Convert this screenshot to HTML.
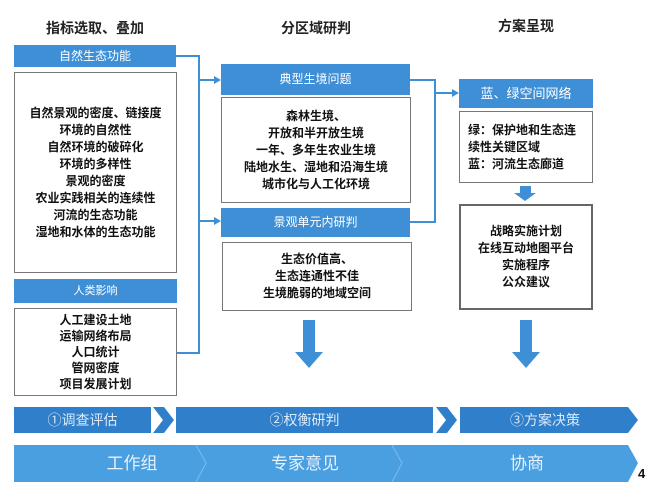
<!DOCTYPE html>
<html><head><meta charset="utf-8"><style>
body{margin:0;width:653px;height:503px;background:#fff;position:relative;overflow:hidden;font-family:"Liberation Sans","Noto Sans CJK SC",sans-serif;}
.a{position:absolute;box-sizing:border-box;}
.t{font-size:14px;font-weight:bold;color:#222;text-align:center;}
.h{background:#3e8fd6;color:#fff;font-size:12px;text-align:center;}
.b{border:1.5px solid #777;background:#fff;color:#111;font-size:12px;font-weight:bold;text-align:center;display:flex;flex-direction:column;justify-content:center;line-height:17px;}
</style></head><body>
<div class="a t" style="left:14px;top:18px;width:162px;">指标选取、叠加</div>
<div class="a t" style="left:221px;top:18px;width:190px;">分区域研判</div>
<div class="a t" style="left:459px;top:16px;width:134px;">方案呈现</div>

<div class="a h" style="left:14px;top:45px;width:162px;height:22px;line-height:22px;">自然生态功能</div>
<div class="a b" style="left:14px;top:72px;width:163px;height:201px;">自然景观的密度、链接度<br>环境的自然性<br>自然环境的破碎化<br>环境的多样性<br>景观的密度<br>农业实践相关的连续性<br>河流的生态功能<br>湿地和水体的生态功能</div>
<div class="a h" style="left:14px;top:279px;width:163px;height:24px;line-height:24px;font-size:11px;">人类影响</div>
<div class="a b" style="left:14px;top:308px;width:163px;height:88px;line-height:16px;">人工建设土地<br>运输网络布局<br>人口统计<br>管网密度<br>项目发展计划</div>

<div class="a h" style="left:221px;top:64px;width:189px;height:31px;line-height:31px;">典型生境问题</div>
<div class="a b" style="left:221px;top:97px;width:190px;height:106px;">森林生境、<br>开放和半开放生境<br>一年、多年生农业生境<br>陆地水生、湿地和沿海生境<br>城市化与人工化环境</div>
<div class="a h" style="left:221px;top:208px;width:189px;height:29px;line-height:29px;">景观单元内研判</div>
<div class="a b" style="left:222px;top:242px;width:190px;height:69px;">生态价值高、<br>生态连通性不佳<br>生境脆弱的地域空间</div>

<div class="a h" style="left:459px;top:79px;width:134px;height:29px;line-height:29px;font-size:13px;">蓝、绿空间网络</div>
<div class="a b" style="left:459px;top:111px;width:134px;height:72px;text-align:left;padding-left:8px;">绿：保护地和生态连<br>续性关键区域<br>蓝：河流生态廊道</div>
<div class="a b" style="left:459px;top:204px;width:134px;height:106px;border:2px solid #666;">战略实施计划<br>在线互动地图平台<br>实施程序<br>公众建议</div>

<svg class="a" style="left:0;top:0" width="653" height="503">
<g fill="none" stroke="#3e8fd6" stroke-width="2">
<polyline points="176,56 199,56 199,353 177,353"/>
<line x1="199" y1="80" x2="217" y2="80"/>
<line x1="199" y1="221" x2="217" y2="221"/>
<polyline points="410,80 435,80 435,222 410,222"/>
<line x1="435" y1="93" x2="455" y2="93"/>
</g>
<g fill="#3e8fd6">
<polygon points="221,80 214,76 214,84"/>
<polygon points="221,221 214,217 214,225"/>
<polygon points="459,93 452,89 452,97"/>
<polygon points="520,186 531,186 531,193 536,193 525,201 514,193 520,193"/>
<polygon points="303,320 315,320 315,352 323,352 309,368 295,352 303,352"/>
<polygon points="520,320 532,320 532,352 540,352 526,368 512,352 520,352"/>
</g>
<g fill="#2f7fcb">
<rect x="14" y="407" width="137" height="26"/>
<polygon points="153,407 164,407 174,420 164,433 153,433 163,420"/>
<rect x="176" y="407" width="257" height="26"/>
<polygon points="436,407 447,407 457,420 447,433 436,433 446,420"/>
<polygon points="460,407 628,407 638,420 628,433 460,433"/>
</g>
<polygon points="14,445 628,445 638,463 628,482 14,482" fill="#4a9fe0"/>
<g fill="none" stroke="#7dbbed" stroke-width="1">
<polyline points="196,445 206,463 196,482"/>
<polyline points="392,445 402,463 392,482"/>
</g>
</svg>
<div class="a" style="left:14px;top:407px;width:137px;height:26px;line-height:26px;color:#dbeafa;font-size:14px;text-align:center;">①调查评估</div>
<div class="a" style="left:176px;top:407px;width:257px;height:26px;line-height:26px;color:#dbeafa;font-size:14px;text-align:center;">②权衡研判</div>
<div class="a" style="left:460px;top:407px;width:170px;height:26px;line-height:26px;color:#dbeafa;font-size:14px;text-align:center;">③方案决策</div>
<div class="a" style="left:82px;top:445px;width:100px;height:37px;line-height:37px;color:#e6f1fb;font-size:17px;text-align:center;">工作组</div>
<div class="a" style="left:255px;top:445px;width:100px;height:37px;line-height:37px;color:#e6f1fb;font-size:17px;text-align:center;">专家意见</div>
<div class="a" style="left:477px;top:445px;width:100px;height:37px;line-height:37px;color:#e6f1fb;font-size:17px;text-align:center;">协商</div>
<div class="a" style="left:638px;top:466px;font-size:13px;font-weight:bold;color:#111;">4</div>
</body></html>
